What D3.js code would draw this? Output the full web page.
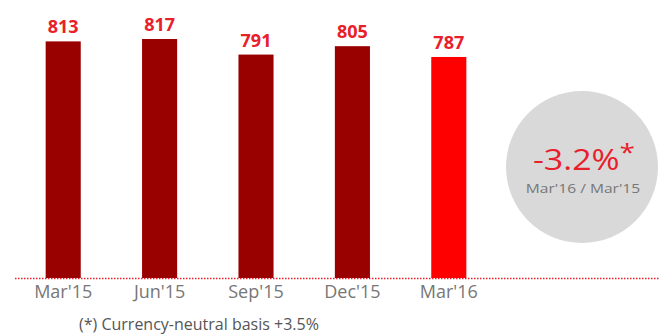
<!DOCTYPE html>
<html>
<head>
<meta charset="utf-8">
<script src="https://cdn.jsdelivr.net/npm/d3@7"></script>
<style>
  body { margin: 0; background: #fff; }
  svg { display: block; font-family: "Open Sans", "Noto Sans", sans-serif; }
</style>
</head>
<body>
<div id="chart"></div>
<script>
// data
let quarters = ["Mar'15", "Jun'15", "Sep'15", "Dec'15", "Mar'16"];
let values = [813, 817, 791, 805, 787];
let changeLabel = "-3.2%";
let changeSub = "Mar'16 / Mar'15";
let footnote = "(*) Currency-neutral basis +3.5%";

let width = 660,
    height = 334;

let baseY = 278;

let darkRed = '#990000';
let brightRed = '#ff0000';
let labelRed = '#e8202a';

let svg = d3.select("#chart")
    .append("svg")
    .attr("width", width)
    .attr("height", height);

let x = d3.scaleBand()
    .domain(quarters)
    .range([15, 497])
    .paddingInner(0.636)
    .paddingOuter(0.318);

// axis does not start at zero in the original
let y = d3.scaleLinear()
    .domain([418, 817])
    .range([baseY, 39]);

// bars
svg.selectAll(".bar")
    .data(values)
    .enter()
    .append("rect")
    .attr("class", "bar")
    .attr("x", (d, i) => x(quarters[i]))
    .attr("y", d => y(d))
    .attr("width", x.bandwidth())
    .attr("height", d => baseY - y(d))
    .style("fill", (d, i) => i == values.length - 1 ? brightRed : darkRed);

// value labels
svg.selectAll(".val")
    .data(values)
    .enter()
    .append("text")
    .attr("class", "val")
    .attr("x", (d, i) => x(quarters[i]) + x.bandwidth() / 2)
    .attr("y", d => y(d) - 8)
    .attr("text-anchor", "middle")
    .style("font-size", "18px")
    .style("font-weight", "bold")
    .style("fill", labelRed)
    .text(d => d);

// dotted baseline
svg.append("line")
    .attr("x1", 15)
    .attr("x2", width)
    .attr("y1", baseY + 0.5)
    .attr("y2", baseY + 0.5)
    .style("stroke", labelRed)
    .style("stroke-width", 1.5)
    .style("stroke-dasharray", "1.5,1.5");

// category labels
let xAxis = svg.append("g")
    .attr("transform", "translate(0," + (baseY + 2) + ")")
    .call(d3.axisBottom(x).tickSize(0).tickPadding(5));
xAxis.select(".domain").remove();
xAxis.selectAll("text")
    .style("font-family", "'Open Sans', 'Noto Sans', sans-serif")
    .style("font-size", "18px")
    .style("fill", "#777");

// grey bubble with the yearly change
let cx = 582, cy = 167;
svg.append("circle")
    .attr("cx", cx)
    .attr("cy", cy)
    .attr("r", 76)
    .style("fill", "#d9d9d9");

// text in the source is a little stretched sideways
let big = svg.append("text")
    .attr("transform", "translate(" + (cx + 2) + "," + (cy + 3) + ") scale(1.17,1)")
    .attr("text-anchor", "middle")
    .style("font-size", "29px")
    .style("fill", labelRed);
big.append("tspan").text(changeLabel);
big.append("tspan")
    .attr("dy", -9)
    .style("font-size", "24px")
    .text("*");

svg.append("text")
    .attr("transform", "translate(" + (cx + 1) + "," + (cy + 26) + ") scale(1.2,1)")
    .attr("text-anchor", "middle")
    .style("font-size", "13px")
    .style("fill", "#777")
    .text(changeSub);

// footnote
svg.append("text")
    .attr("x", 79)
    .attr("y", 330)
    .style("font-size", "16px")
    .style("fill", "#555")
    .text(footnote);
</script>
</body>
</html>
